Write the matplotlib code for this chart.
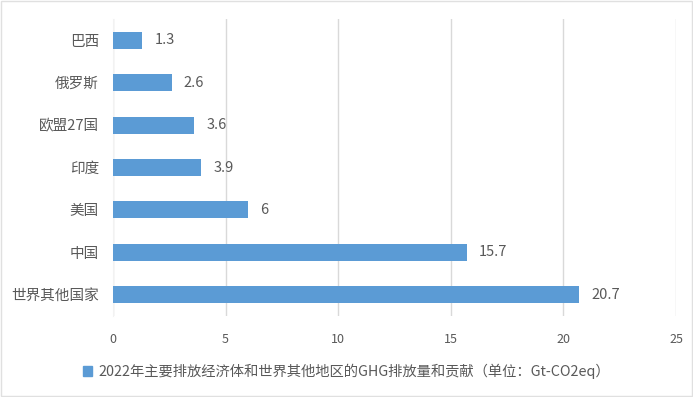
import numpy as np
import matplotlib.pyplot as plt
from matplotlib.patches import Patch

plt.rcParams['font.family'] = ['Noto Sans CJK SC', 'DejaVu Sans']

categories = ['巴西', '俄罗斯', '欧盟27国', '印度', '美国', '中国', '世界其他国家']
values = [1.3, 2.6, 3.6, 3.9, 6, 15.7, 20.7]
xticks = [0, 5, 10, 15, 20, 25]
legend_label = '2022年主要排放经济体和世界其他地区的GHG排放量和贡献（单位：Gt-CO2eq）'

bar_color = '#5B9BD5'
text_color = '#595959'

fig = plt.figure(figsize=(6.93, 3.97), dpi=100)
ax = fig.add_axes([0.163, 0.204, 0.8125, 0.748])

y = np.arange(len(categories))
ax.barh(y, values, height=0.4, color=bar_color, zorder=3)
ax.set_ylim(len(categories) - 0.5, -0.5)
ax.set_yticks(y)
ax.set_yticklabels(categories, fontsize=10.5, color=text_color)
ax.set_xlim(0, 25)
ax.set_xticks(xticks)
ax.set_xticklabels([str(t) for t in xticks], fontsize=9, color=text_color)
ax.tick_params(axis='both', length=0)
ax.tick_params(axis='x', pad=12)
ax.tick_params(axis='y', pad=10)
ax.grid(axis='x', color='#D9D9D9', linewidth=1, zorder=0)
for s in ['top', 'right', 'bottom']:
    ax.spines[s].set_visible(False)
ax.spines['left'].set_color('#F2F2F2')

for yi, v in zip(y, values):
    ax.text(v + 0.55, yi, f'{v:g}', va='center', ha='left', fontsize=10.5, color=text_color)

fig.legend(handles=[Patch(color=bar_color)], labels=[legend_label],
           loc='center', bbox_to_anchor=(0.5, 0.065), frameon=False,
           fontsize=10.3, labelcolor=text_color, handlelength=0.65, handleheight=0.65,
           handletextpad=0.4)

fig.patches.append(plt.Rectangle((0.002, 0.002), 0.996, 0.996, transform=fig.transFigure,
                                 fill=False, edgecolor='#E0E0E0', linewidth=1))

fig.savefig('out.png', dpi=100)
